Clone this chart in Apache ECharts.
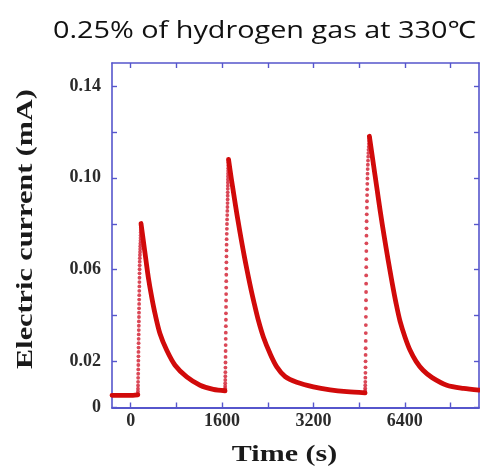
<!DOCTYPE html>
<html>
<head>
<meta charset="utf-8">
<script src="https://cdn.jsdelivr.net/npm/echarts@6/dist/echarts.min.js"></script>
<style>
  html, body { margin: 0; padding: 0; background: #fff; }
  #chart { width: 480px; height: 468px; }
</style>
</head>
<body>
<div id="chart"></div>
<script>
// Current response of the sensor to three hydrogen pulses: [time (s), current (mA)]
const baseline0 = [[-328, 0.0053], [40, 0.0053], [125, 0.0055]];

const rise1 = [[125,0.0060],[126,0.0070],[127,0.0082],[128,0.0096],[129,0.0112],[130,0.0129],[131,0.0147],[132,0.0166],[133,0.0185],[134,0.0204],[135,0.0223],[136,0.0242],[137,0.0261],[138,0.0280],[139,0.0299],[140,0.0318],[141,0.0337],[142,0.0356],[143,0.0375],[144,0.0394],[145,0.0413],[146,0.0432],[147,0.0451],[148,0.0470],[149,0.0489],[150,0.0508],[151,0.0527],[152,0.0546],[153,0.0565],[154,0.0584],[155,0.0602],[156,0.0619],[157,0.0635],[159,0.0650],[161,0.0664],[163,0.0677],[165,0.0690],[167,0.0702],[169,0.0714],[171,0.0726],[172,0.0738],[174,0.0750],[175,0.0762],[176,0.0773],[177,0.0783],[178,0.0792],[179,0.0798],[180,0.0801]];

const decay1 = [[180,0.0801],[221,0.0726],[268,0.0639],[308,0.0567],[368,0.0480],[426,0.0408],[513,0.0321],[631,0.0249],[776,0.0184],[981,0.0133],[1214,0.0097],[1447,0.0079],[1652,0.0073]];

const rise2 = [[1652,0.0076],[1653,0.0084],[1654,0.0094],[1655,0.0106],[1656,0.0120],[1657,0.0136],[1658,0.0154],[1659,0.0174],[1660,0.0196],[1661,0.0220],[1662,0.0246],[1663,0.0272],[1664,0.0299],[1665,0.0326],[1666,0.0354],[1667,0.0382],[1668,0.0410],[1669,0.0438],[1670,0.0466],[1671,0.0494],[1672,0.0522],[1673,0.0550],[1674,0.0578],[1675,0.0605],[1676,0.0632],[1677,0.0658],[1678,0.0684],[1679,0.0709],[1680,0.0733],[1682,0.0756],[1684,0.0778],[1686,0.0799],[1688,0.0819],[1690,0.0838],[1692,0.0856],[1694,0.0873],[1696,0.0890],[1697,0.0906],[1698,0.0922],[1699,0.0937],[1700,0.0952],[1701,0.0966],[1702,0.0980],[1703,0.0993],[1704,0.1006],[1705,0.1018],[1706,0.1030],[1707,0.1042],[1708,0.1054],[1709,0.1066],[1711,0.1078]];

const decay2 = [[1713,0.1080],[1763,0.0995],[1813,0.0915],[1863,0.0837],[1913,0.0764],[1963,0.0694],[2013,0.0628],[2063,0.0566],[2113,0.0507],[2163,0.0453],[2236,0.0379],[2323,0.0307],[2440,0.0235],[2558,0.0177],[2703,0.0135],[2908,0.0110],[3199,0.0090],[3492,0.0077],[3784,0.0069],[4105,0.0064]];

const rise3 = [[4105,0.0066],[4106,0.0074],[4107,0.0084],[4108,0.0097],[4109,0.0112],[4110,0.0130],[4111,0.0151],[4112,0.0175],[4113,0.0201],[4114,0.0229],[4115,0.0258],[4116,0.0290],[4117,0.0324],[4118,0.0359],[4119,0.0395],[4120,0.0431],[4121,0.0467],[4122,0.0503],[4123,0.0539],[4124,0.0575],[4125,0.0611],[4126,0.0646],[4127,0.0681],[4128,0.0715],[4129,0.0748],[4130,0.0780],[4132,0.0811],[4134,0.0841],[4136,0.0870],[4138,0.0898],[4140,0.0925],[4142,0.0950],[4144,0.0974],[4146,0.0997],[4148,0.1018],[4150,0.1038],[4153,0.1057],[4156,0.1075],[4159,0.1092],[4162,0.1108],[4165,0.1122],[4168,0.1135],[4171,0.1148],[4174,0.1160],[4177,0.1171],[4180,0.1180]];

const decay3 = [[4180,0.1181],[4245,0.1069],[4310,0.0958],[4370,0.0855],[4438,0.0747],[4508,0.0643],[4578,0.0544],[4648,0.0453],[4718,0.0375],[4806,0.0305],[4893,0.0249],[4998,0.0201],[5121,0.0162],[5279,0.0130],[5536,0.0097],[5827,0.0083],[6100,0.0076]];

// Axis ticks and labels
const xTickMarks = [0, 800, 1600, 2400, 3200, 4000, 4800, 5600];
const xLabelValues = [0, 1600, 3200, 4800];
const xTickLabels = ['0', '1600', '3200', '6400'];
const yTickMarks = [0, 0.02, 0.04, 0.06, 0.08, 0.10, 0.12, 0.14];
const yLabelValues = [0, 0.02, 0.06, 0.10, 0.14];
const yTickLabels = ['0', '0.02', '0.06', '0.10', '0.14'];

const titleText = '0.25% of hydrogen gas at 330℃';
const xName = 'Time (s)';
const yName = 'Electric current (mA)';

const AXIS_COLOR = '#5656cc';
const TRACE_COLOR = '#d10a0a';
const SERIF = '"Liberation Serif", "Times New Roman", serif';
const SANS = '"Open Sans", "Noto Sans", sans-serif';

function lookup(values, labels) {
  return function (v) {
    for (let i = 0; i < values.length; i++) {
      if (Math.abs(values[i] - v) < 1e-9) return labels[i];
    }
    return '';
  };
}

function axisBase(extra) {
  return Object.assign({
    type: 'value',
    splitLine: { show: false },
    axisLine: { show: true, onZero: false, lineStyle: { color: AXIS_COLOR, width: 1.6 } },
  }, extra);
}

const tickStyle = { color: AXIS_COLOR, width: 1.4 };
const labelStyle = { fontFamily: SERIF, fontWeight: 'bold', fontSize: 18, color: '#2b2b2b' };

const xRange = { min: -328, max: 6100 };
const yRange = { min: 0, max: 0.15 };

const chart = echarts.init(document.getElementById('chart'), null, { renderer: 'canvas' });

const lineSegments = [baseline0, decay1, decay2, decay3];
const riseSegments = [rise1, rise2, rise3];

const series = [];
lineSegments.forEach(function (seg) {
  series.push({
    type: 'line',
    data: seg,
    smooth: 0.3,
    showSymbol: false,
    lineStyle: { color: TRACE_COLOR, width: 4.8, cap: 'round', join: 'round' },
    silent: true,
    z: 3
  });
});
riseSegments.forEach(function (seg) {
  series.push({
    type: 'scatter',
    data: seg,
    symbol: 'circle',
    symbolSize: 3.8,
    itemStyle: { color: '#d3283a', opacity: 0.85 },
    silent: true,
    z: 2
  });
});

chart.setOption({
  animation: false,
  backgroundColor: '#ffffff',
  grid: { left: 112, top: 63, right: 1, bottom: 60.5, containLabel: false },
  xAxis: [
    axisBase(Object.assign({
      position: 'bottom',
      axisLine: { show: true, onZero: false, lineStyle: { color: AXIS_COLOR, width: 2 } },
      axisTick: { show: true, inside: true, length: 5, customValues: xTickMarks, lineStyle: tickStyle },
      axisLabel: Object.assign({ show: true, margin: 5, customValues: xLabelValues, formatter: lookup(xLabelValues, xTickLabels) }, labelStyle)
    }, xRange)),
    axisBase(Object.assign({
      position: 'top',
      axisTick: { show: true, inside: true, length: 5, customValues: xTickMarks, lineStyle: tickStyle },
      axisLabel: { show: false }
    }, xRange))
  ],
  yAxis: [
    axisBase(Object.assign({
      position: 'left',
      axisTick: { show: true, inside: true, length: 5, customValues: yTickMarks, lineStyle: tickStyle },
      axisLabel: Object.assign({ show: true, margin: 11, customValues: yLabelValues, formatter: lookup(yLabelValues, yTickLabels) }, labelStyle)
    }, yRange)),
    axisBase(Object.assign({
      position: 'right',
      axisTick: { show: true, inside: true, length: 5, customValues: yTickMarks, lineStyle: tickStyle },
      axisLabel: { show: false }
    }, yRange))
  ],
  graphic: [
    {
      // chart title, drawn slightly widened
      type: 'text',
      x: 53, y: 31,
      scaleX: 1.2,
      style: {
        text: titleText,
        font: '24px ' + SANS,
        fill: '#111111',
        align: 'left',
        verticalAlign: 'middle'
      }
    },
    {
      type: 'text',
      x: 26, y: 229,
      rotation: Math.PI / 2,
      scaleX: 1.26,
      style: {
        text: yName,
        font: 'bold 24px ' + SERIF,
        fill: '#1a1a1a',
        align: 'center',
        verticalAlign: 'middle'
      }
    },
    {
      type: 'text',
      x: 284.5, y: 455,
      scaleX: 1.25,
      style: {
        text: xName,
        font: 'bold 24px ' + SERIF,
        fill: '#1a1a1a',
        align: 'center',
        verticalAlign: 'middle'
      }
    }
  ],
  series: series
});
</script>
</body>
</html>
